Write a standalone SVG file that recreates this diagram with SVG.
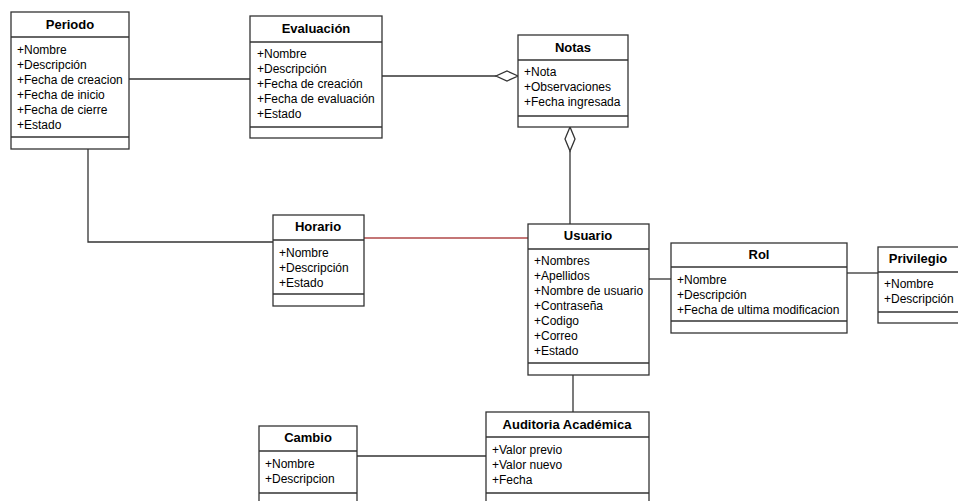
<svg xmlns="http://www.w3.org/2000/svg" width="958" height="501" viewBox="0 0 958 501">
<style>
.box{fill:#fff;stroke:#333;stroke-width:1.3}
.sep{stroke:#333;stroke-width:1.3}
.t{font-family:"Liberation Sans",Arial,sans-serif;font-size:13px;font-weight:bold;text-anchor:middle;fill:#000}
.a{font-family:"Liberation Sans",Arial,sans-serif;font-size:12px;fill:#000}
.c{fill:none;stroke:#333;stroke-width:1.3}
.red{fill:none;stroke:#b04848;stroke-width:1.3}
.dia{fill:#fff;stroke:#333;stroke-width:1.3}
</style>
<rect width="958" height="501" fill="#fff"/>
<g id="connectors">
<line class="c" x1="129" y1="79" x2="250" y2="79"/>
<line class="c" x1="382" y1="76" x2="496" y2="76"/>
<polygon class="dia" points="518,76 507,71 496,76 507,81"/>
<line class="c" x1="570" y1="151" x2="570" y2="224"/>
<polygon class="dia" points="570,127 565,139 570,151 575,139"/>
<polyline class="c" points="88,149 88,242 273,242"/>
<line class="red" x1="364" y1="238" x2="528" y2="238"/>
<line class="c" x1="649" y1="279" x2="671" y2="279"/>
<line class="c" x1="847" y1="273" x2="878" y2="273"/>
<line class="c" x1="573" y1="375" x2="573" y2="412"/>
<line class="c" x1="357" y1="456" x2="486" y2="456"/>
</g>
<g id="periodo">
<rect class="box" x="11" y="12" width="118" height="137"/>
<line class="sep" x1="11" y1="37" x2="129" y2="37"/>
<line class="sep" x1="11" y1="137" x2="129" y2="137"/>
<text class="t" x="70" y="29">Periodo</text>
<text class="a" x="17" y="54">+Nombre</text>
<text class="a" x="17" y="69">+Descripción</text>
<text class="a" x="17" y="84">+Fecha de creacion</text>
<text class="a" x="17" y="99">+Fecha de inicio</text>
<text class="a" x="17" y="114">+Fecha de cierre</text>
<text class="a" x="17" y="129">+Estado</text>
</g>
<g id="evaluacion">
<rect class="box" x="250" y="16" width="132" height="122"/>
<line class="sep" x1="250" y1="42" x2="382" y2="42"/>
<line class="sep" x1="250" y1="127" x2="382" y2="127"/>
<text class="t" x="316" y="33">Evaluación</text>
<text class="a" x="257" y="58">+Nombre</text>
<text class="a" x="257" y="73">+Descripción</text>
<text class="a" x="257" y="88">+Fecha de creación</text>
<text class="a" x="257" y="103">+Fecha de evaluación</text>
<text class="a" x="257" y="118">+Estado</text>
</g>
<g id="notas">
<rect class="box" x="518" y="35" width="110" height="92"/>
<line class="sep" x1="518" y1="60" x2="628" y2="60"/>
<line class="sep" x1="518" y1="116" x2="628" y2="116"/>
<text class="t" x="573" y="52">Notas</text>
<text class="a" x="524" y="76">+Nota</text>
<text class="a" x="524" y="91">+Observaciones</text>
<text class="a" x="524" y="106">+Fecha ingresada</text>
</g>
<g id="horario">
<rect class="box" x="273" y="215" width="91" height="91"/>
<line class="sep" x1="273" y1="240" x2="364" y2="240"/>
<line class="sep" x1="273" y1="294" x2="364" y2="294"/>
<text class="t" x="318" y="231">Horario</text>
<text class="a" x="279" y="257">+Nombre</text>
<text class="a" x="279" y="272">+Descripción</text>
<text class="a" x="279" y="287">+Estado</text>
</g>
<g id="usuario">
<rect class="box" x="528" y="224" width="121" height="151"/>
<line class="sep" x1="528" y1="249" x2="649" y2="249"/>
<line class="sep" x1="528" y1="363" x2="649" y2="363"/>
<text class="t" x="588" y="240">Usuario</text>
<text class="a" x="534" y="265">+Nombres</text>
<text class="a" x="534" y="280">+Apellidos</text>
<text class="a" x="534" y="295">+Nombre de usuario</text>
<text class="a" x="534" y="310">+Contraseña</text>
<text class="a" x="534" y="325">+Codigo</text>
<text class="a" x="534" y="340">+Correo</text>
<text class="a" x="534" y="355">+Estado</text>
</g>
<g id="rol">
<rect class="box" x="671" y="243" width="176" height="90"/>
<line class="sep" x1="671" y1="267" x2="847" y2="267"/>
<line class="sep" x1="671" y1="321" x2="847" y2="321"/>
<text class="t" x="759" y="259">Rol</text>
<text class="a" x="677" y="284">+Nombre</text>
<text class="a" x="677" y="299">+Descripción</text>
<text class="a" x="677" y="314">+Fecha de ultima modificacion</text>
</g>
<g id="privilegio">
<rect class="box" x="878" y="247" width="90" height="76"/>
<line class="sep" x1="878" y1="272" x2="968" y2="272"/>
<line class="sep" x1="878" y1="312" x2="968" y2="312"/>
<text class="t" x="918" y="263">Privilegio</text>
<text class="a" x="884" y="288">+Nombre</text>
<text class="a" x="884" y="303">+Descripción</text>
</g>
<g id="auditoria">
<rect class="box" x="486" y="412" width="163" height="100"/>
<line class="sep" x1="486" y1="437" x2="649" y2="437"/>
<line class="sep" x1="486" y1="493" x2="649" y2="493"/>
<text class="t" x="567" y="429">Auditoria Académica</text>
<text class="a" x="492" y="454">+Valor previo</text>
<text class="a" x="492" y="469">+Valor nuevo</text>
<text class="a" x="492" y="484">+Fecha</text>
</g>
<g id="cambio">
<rect class="box" x="259" y="426" width="98" height="90"/>
<line class="sep" x1="259" y1="451" x2="357" y2="451"/>
<line class="sep" x1="259" y1="493" x2="357" y2="493"/>
<text class="t" x="308" y="442">Cambio</text>
<text class="a" x="265" y="468">+Nombre</text>
<text class="a" x="265" y="483">+Descripcion</text>
</g>
</svg>
